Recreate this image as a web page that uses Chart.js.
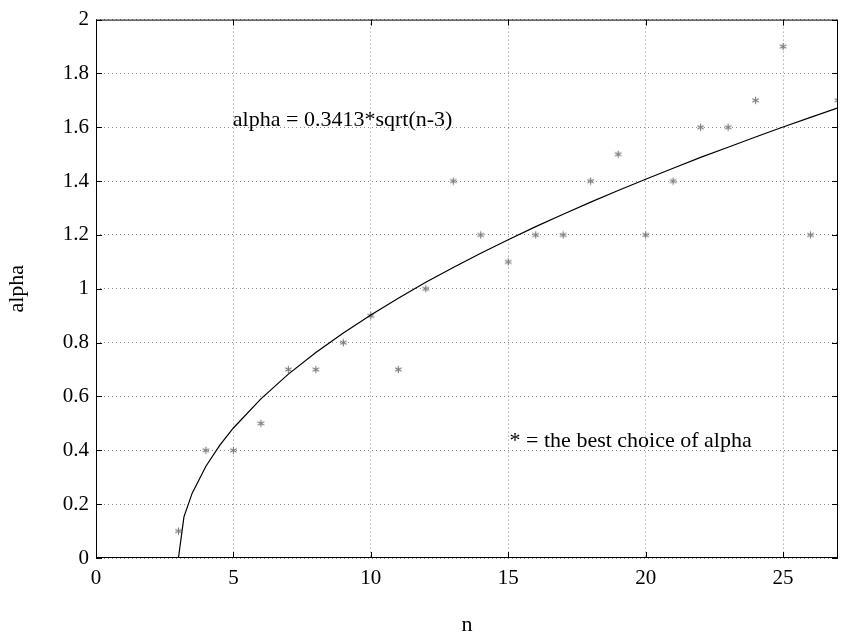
<!DOCTYPE html>
<html>
<head>
<meta charset="utf-8">
<script src="https://cdn.jsdelivr.net/npm/chart.js@4"></script>
<style>
  html, body { margin: 0; padding: 0; background: #fff; }
  #wrap { width: 844px; height: 636px; }
</style>
</head>
<body>
<div id="wrap"><canvas id="chart" width="844" height="636"></canvas></div>
<script>
// best choice of alpha for each n
const nValues = [3, 4, 5, 6, 7, 8, 9, 10, 11, 12, 13, 14, 15, 16, 17, 18, 19, 20, 21, 22, 23, 24, 25, 26, 27];
const bestAlpha = [0.1, 0.4, 0.4, 0.5, 0.7, 0.7, 0.8, 0.9, 0.7, 1.0, 1.4, 1.2, 1.1, 1.2, 1.2, 1.4, 1.5, 1.2, 1.4, 1.6, 1.6, 1.7, 1.9, 1.2, 1.7];

// fitted curve
const fitN = [3, 3.2, 3.5, 4, 4.5, 5, 6, 7, 8, 9, 10, 11, 12, 13, 14, 15, 16, 17, 18, 19, 20, 21, 22, 23, 24, 25, 26, 27];
const fitAlpha = [0, 0.153, 0.241, 0.341, 0.418, 0.483, 0.591, 0.683, 0.763, 0.836, 0.903, 0.965, 1.024, 1.079, 1.132, 1.182, 1.231, 1.277, 1.322, 1.365, 1.407, 1.448, 1.488, 1.526, 1.564, 1.601, 1.637, 1.672];

const fitLabel = "alpha = 0.3413*sqrt(n-3)";
const markLabel = "* = the best choice of alpha";

const serif = "'Liberation Serif', 'DejaVu Serif', serif";

// little grey asterisk used as marker
const star = document.createElement("canvas");
star.width = 9;
star.height = 9;
const sctx = star.getContext("2d");
sctx.strokeStyle = "#7a7a7a";
sctx.lineWidth = 1.1;
for (let a = 0; a < 3; a++) {
    const ang = Math.PI / 2 + a * Math.PI / 3;
    sctx.beginPath();
    sctx.moveTo(4.5 + Math.cos(ang) * 3.7, 4.5 + Math.sin(ang) * 3.7);
    sctx.lineTo(4.5 - Math.cos(ang) * 3.7, 4.5 - Math.sin(ang) * 3.7);
    sctx.stroke();
}

const scatterPoints = nValues.map((n, i) => ({ x: n, y: bestAlpha[i] }));
const fitPoints = fitN.map((n, i) => ({ x: n, y: fitAlpha[i] }));

// box, inward tick marks and the two text notes
const framePlugin = {
    id: "frame",
    afterDatasetsDraw(chart) {
        const ctx = chart.ctx;
        const area = chart.chartArea;
        const xs = chart.scales.x;
        const ys = chart.scales.y;
        ctx.save();
        ctx.strokeStyle = "#000";
        ctx.lineWidth = 1;
        ctx.strokeRect(area.left + 0.5, area.top + 0.5, area.right - area.left - 1, area.bottom - area.top - 1);
        ctx.beginPath();
        xs.ticks.forEach(t => {
            const px = Math.round(xs.getPixelForValue(t.value)) + 0.5;
            ctx.moveTo(px, area.bottom);
            ctx.lineTo(px, area.bottom - 6);
            ctx.moveTo(px, area.top);
            ctx.lineTo(px, area.top + 6);
        });
        ys.ticks.forEach(t => {
            const py = Math.round(ys.getPixelForValue(t.value)) + 0.5;
            ctx.moveTo(area.left, py);
            ctx.lineTo(area.left + 6, py);
            ctx.moveTo(area.right, py);
            ctx.lineTo(area.right - 6, py);
        });
        ctx.stroke();

        ctx.fillStyle = "#000";
        ctx.font = "22px " + serif;
        ctx.textBaseline = "middle";
        ctx.textAlign = "left";
        ctx.fillText(fitLabel, xs.getPixelForValue(4.98), ys.getPixelForValue(1.625));
        ctx.fillText(markLabel, xs.getPixelForValue(15.05), ys.getPixelForValue(0.435));
        ctx.restore();
    }
};

new Chart(document.getElementById("chart"), {
    type: "scatter",
    data: {
        datasets: [
            {
                label: "best alpha",
                data: scatterPoints,
                pointStyle: star,
                pointRadius: 4,
                pointHoverRadius: 4,
                order: 2
            },
            {
                label: "fit",
                data: fitPoints,
                showLine: true,
                borderColor: "#000",
                borderWidth: 1.2,
                pointRadius: 0,
                tension: 0,
                fill: false,
                order: 1
            }
        ]
    },
    options: {
        responsive: false,
        animation: false,
        events: [],
        layout: { padding: { left: 0, top: 16, right: 6, bottom: 0 } },
        plugins: {
            legend: { display: false },
            tooltip: { enabled: false }
        },
        scales: {
            x: {
                type: "linear",
                min: 0,
                max: 27,
                afterFit: s => { s.height = 78; },
                afterBuildTicks: s => {
                    s.ticks = [0, 5, 10, 15, 20, 25].map(v => ({ value: v }));
                },
                ticks: {
                    color: "#000",
                    padding: 8,
                    font: { family: serif, size: 21 }
                },
                grid: {
                    color: "#8a8a8a",
                    lineWidth: 1,
                    drawTicks: false
                },
                border: { display: false, dash: [1, 3] },
                title: {
                    display: true,
                    text: "n",
                    color: "#000",
                    padding: { top: 0, bottom: 0 },
                    font: { family: serif, size: 22, lineHeight: 1 }
                }
            },
            y: {
                type: "linear",
                min: 0,
                max: 2,
                afterFit: s => { s.width = 96; },
                ticks: {
                    stepSize: 0.2,
                    color: "#000",
                    padding: 7,
                    font: { family: serif, size: 21 },
                    callback: v => String(Math.round(v * 10) / 10)
                },
                grid: {
                    color: "#8a8a8a",
                    lineWidth: 1,
                    drawTicks: false
                },
                border: { display: false, dash: [1, 3] },
                title: {
                    display: true,
                    text: "alpha",
                    color: "#000",
                    padding: { top: 6, bottom: 0 },
                    font: { family: serif, size: 22, lineHeight: 1 }
                }
            }
        }
    },
    plugins: [framePlugin]
});
</script>
</body>
</html>
